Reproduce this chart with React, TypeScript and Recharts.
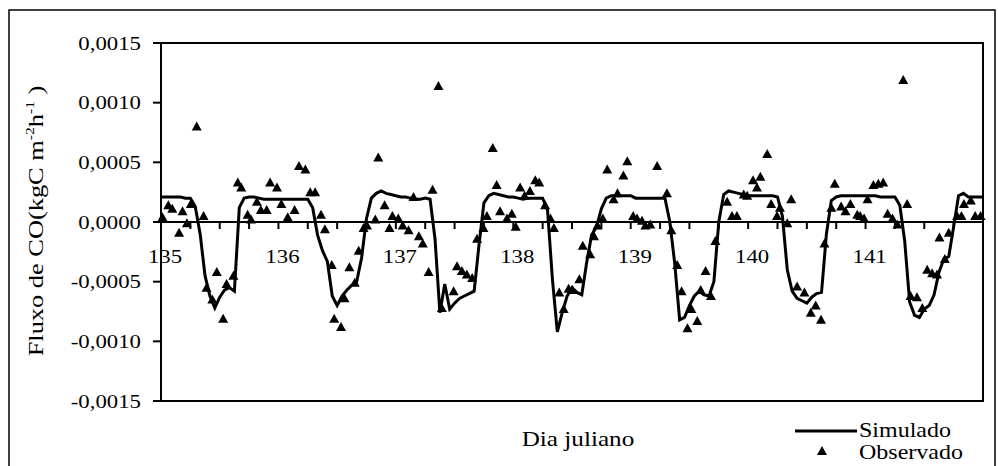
import {
  ComposedChart,
  Line,
  Scatter,
  XAxis,
  YAxis,
  ReferenceLine,
  ReferenceArea,
} from 'recharts';

// hourly simulated flux, day 135 h0 .. day 142 h0
const simulado = [
  // 135
  0.00021, 0.00021, 0.00021, 0.00021, 0.00021, 0.0002, 0.0002, 0.00013, -0.0001, -0.00045, -0.00062, -0.00072,
  -0.00063, -0.00057, -0.00055, -0.00058, 0.00012, 0.0002, 0.00021, 0.00021, 0.0002, 0.00019, 0.00019, 0.00019,
  // 136
  0.00019, 0.00019, 0.00019, 0.00019, 0.00019, 0.00019, 0.00019, 0.00012, -0.00011, -0.00024, -0.00033, -0.00062,
  -0.0007, -0.00062, -0.00057, -0.00053, -0.0005, -0.0003, 0.00003, 0.0002, 0.00024, 0.00026, 0.00024, 0.00023,
  // 137
  0.00022, 0.00021, 0.00021, 0.0002, 0.00019, 0.00019, 0.0002, 0.00019, -0.00014, -0.00076, -0.00052, -0.00073,
  -0.00068, -0.00064, -0.00062, -0.0006, -0.00058, -0.00019, 0.00016, 0.00022, 0.00024, 0.00023, 0.00022, 0.00021,
  // 138
  0.00021, 0.0002, 0.00019, 0.0002, 0.0002, 0.0002, 0.0002, 0.0001, -0.00048, -0.00092, -0.00076, -0.00062,
  -0.00055, -0.00059, -0.00061, -0.00034, -0.00011, -0.00004, 0.00011, 0.0002, 0.00022, 0.00022, 0.00022, 0.00022,
  // 139
  0.00022, 0.0002, 0.0002, 0.0002, 0.0002, 0.0002, 0.0002, 0.0002, 0.0, -0.00035, -0.00082, -0.0008,
  -0.0007, -0.00062, -0.00058, -0.00061, -0.00062, -0.0005, 0.0, 0.00023, 0.00026, 0.00025, 0.00024, 0.00023,
  // 140
  0.00022, 0.00022, 0.00022, 0.00022, 0.00022, 0.00022, 0.00021, 0.00005, -0.0004, -0.00058, -0.00064, -0.00066,
  -0.00068, -0.00063, -0.0006, -0.00059, -0.0001, 0.00018, 0.00021, 0.00022, 0.00022, 0.00022, 0.00022, 0.00022,
  // 141
  0.00022, 0.00022, 0.00022, 0.00021, 0.00021, 0.00021, 0.00021, 0.00014, -0.00016, -0.00067, -0.00078, -0.0008,
  -0.00073, -0.0007, -0.00061, -0.00042, -0.00031, -0.00029, -0.00004, 0.00022, 0.00024, 0.00021, 0.00021, 0.00021,
  // 142
  0.00021,
];

// observed: hours since day 135 and flux
const obsHora = [
  0.3, 1.5, 2.3, 3.7, 4.4, 5.3, 6.1, 7.3, 8.7, 9.3, 10.5, 11.4, 12.7, 13.4, 14.8, 15.7, 16.4, 17.7, 18.4, 19.6,
  20.4, 21.6, 22.3, 23.7, 24.6, 25.9, 27.3, 28.2, 29.5, 30.5, 31.5, 32.7, 33.5, 34.9, 35.4, 36.8, 37.5, 38.5,
  39.6, 40.4, 41.4, 42.1, 43.8, 44.4, 45.7, 46.7, 47.3, 48.5, 49.4, 50.6, 51.6, 52.7, 53.5, 54.7, 55.5, 56.7,
  57.4, 59.8, 60.5, 61.5, 62.5, 63.6, 64.6, 65.9, 66.6, 67.8, 68.6, 69.3, 70.7, 71.7, 72.5, 73.4, 74.3, 75.4,
  76.5, 77.3, 78.5, 79.6, 80.3, 81.4, 82.3, 83.3, 84.1, 85.5, 86.2, 87.7, 88.5, 89.2, 90.3, 91.2, 92.5, 93.3,
  94.5, 95.3, 96.5, 97.3, 98.3, 99.0, 100.0, 101.4, 103.4, 104.3, 105.5, 106.4, 107.6, 108.4, 109.6, 110.3,
  111.3, 112.4, 113.3, 115.7, 116.7, 117.7, 119.1, 119.8, 121.0, 121.8, 122.5, 123.9, 124.7, 125.9, 126.5,
  128.0, 128.8, 130.0, 131.5, 132.8, 133.8, 134.9, 135.6, 137.0, 137.7, 139.0, 139.9, 140.9, 142.3, 142.9,
  143.7, 144.4, 145.6, 146.6, 147.6, 148.5, 149.5, 150.5, 151.7, 152.5, 153.2, 154.5, 155.6, 156.6, 157.6,
  158.6, 159.1, 160.2, 161.0, 162.7, 163.6, 164.1, 165.5, 166.4, 167.5,
];
const obsFluxo = [
  0.00004, 0.00014, 0.00011, -0.00009, 0.00009, -0.00001, 0.00015, 0.0008, 0.00005, -0.00055, -0.00065, -0.00042,
  -0.00081, -0.00052, -0.00045, 0.00033, 0.00029, 0.00006, 0.00002, 0.00017,
  0.0001, 0.0001, 0.00033, 0.00029, 0.00015, 0.00004, 0.0001, 0.00047, 0.00044, 0.00025, 0.00025, 0.00006,
  -0.00006, -0.00036, -0.00081, -0.00088, -0.00064, -0.00038,
  -0.00051, -0.00024, -0.00005, -0.00003, 0.00002, 0.00054, 0.00014, -0.00005, 0.00005, 0.00003, -0.00003,
  -0.00007, 0.00021, -0.00012, -0.00018, -0.00042, 0.00027, 0.00114,
  -0.00072, -0.00058, -0.00037, -0.00041, -0.00044, -0.00047, -0.00014, -0.00005, 0.00005, 0.00062, 0.00031,
  0.00009, 0.00003, 0.00007, -0.00004, 0.00029, 0.00022, 0.00026,
  0.00035, 0.00033, 0.00014, 0.00003, -0.00005, -0.00059, -0.00073, -0.00056, -0.00057, -0.00048, -0.0002,
  -0.00027, -0.00012, -0.00003, 0.00003, 0.00044, 0.00019, 0.00024,
  0.00039, 0.00051, 0.00005, 0.00003, 0.00001, -0.00003, -0.00002, 0.00047, 0.00024, -0.00007, -0.00036,
  -0.00058, -0.00089, -0.00073, -0.00083, -0.00057,
  -0.00041, -0.00062, -0.00016, 0.00017, 0.00005, 0.00005, 0.00023, 0.00022, 0.00035, 0.00029, 0.00038,
  0.00057, 0.00015, 0.00005, 0.00012,
  -0.00001, 0.00019, -0.00054, -0.00059, -0.00076, -0.0007, -0.00082, -0.00018, 0.00012, 0.00032, 0.00013,
  0.00009, 0.00015, 0.00006, 0.00005,
  0.00003, 0.00019, 0.00031, 0.00032, 0.00033, 0.00007, 0.00003, -0.00002, 0.00119, 0.00015, -0.00062,
  -0.00063, -0.00072, -0.0004, -0.00043,
  -0.00044, -0.00013, -0.00031, -0.00009, 0.00005, 0.00005, 0.00015, 0.00018, 0.00005, 0.00005,
];

const diasJulianos = [135, 136, 137, 138, 139, 140, 141];
const marcasY = [-0.0015, -0.001, -0.0005, 0, 0.0005, 0.001, 0.0015];
const marcasHora = Array.from({ length: 29 }, (_, i) => i * 6);

const simData = simulado.map((v, i) => ({ hora: i, simulado: v }));
const obsData = obsHora.map((h, i) => ({ hora: h, observado: obsFluxo[i] }));

const W = 998;
const H = 466;
const PLOT_TOP = 43;
const PLOT_BOTTOM = 401;
const ZERO_Y = (PLOT_TOP + PLOT_BOTTOM) / 2;
const FONT = 'Liberation Serif, serif';
// the reference's serif runs wider than Times, stretch text along its baseline
const SX = 1.2;

const fmtY = (v: number) => v.toFixed(4).replace('.', ',');

const FluxTick = (props: any) => {
  const { x, y, payload } = props;
  return (
    <text
      transform={`translate(${x},${y}) scale(${SX},1)`}
      textAnchor="end"
      dy="0.35em"
      fontSize={19}
      fill="#000"
      style={{ fontFamily: FONT }}
    >
      {fmtY(payload.value)}
    </text>
  );
};

const DayTick = (props: any) => {
  const { x, payload } = props;
  const h = payload.value as number;
  const dia = 135 + h / 24;
  const show = h % 24 === 0 && diasJulianos.includes(dia);
  return (
    <g>
      <line x1={x} x2={x} y1={ZERO_Y} y2={ZERO_Y + 7} stroke="#000" strokeWidth={2} />
      {show && (
        <text
          transform={`translate(${x + 4},${ZERO_Y + 41}) scale(${SX},1)`}
          textAnchor="middle"
          fontSize={19}
          fill="#000"
          style={{ fontFamily: FONT }}
        >
          {dia}
        </text>
      )}
    </g>
  );
};

const Triangle = (props: any) => {
  const { cx, cy } = props;
  if (cx == null || cy == null) return null;
  return <polygon points={`${cx},${cy - 5} ${cx - 5},${cy + 4} ${cx + 5},${cy + 4}`} fill="#000" />;
};

export default function App() {
  return (
    <div
      style={{
        position: 'absolute',
        left: 0,
        top: 0,
        width: W,
        height: H,
        background: '#fff',
        fontFamily: FONT,
      }}
    >
      <ComposedChart
        width={W}
        height={H}
        data={simData}
        margin={{ top: PLOT_TOP, right: 15, bottom: 35, left: 81 }}
      >
        <XAxis
          type="number"
          dataKey="hora"
          domain={[0, 168]}
          ticks={marcasHora}
          interval={0}
          axisLine={false}
          tickLine={false}
          tick={<DayTick />}
          height={30}
        />
        <YAxis
          type="number"
          domain={[-0.0015, 0.0015]}
          ticks={marcasY}
          width={80}
          tickSize={8}
          tickMargin={12}
          axisLine={{ stroke: '#000', strokeWidth: 2 }}
          tickLine={{ stroke: '#000', strokeWidth: 2 }}
          tick={<FluxTick />}
        />
        <ReferenceArea
          x1={0}
          x2={168}
          y1={-0.0015}
          y2={0.0015}
          fill="none"
          stroke="#000"
          strokeWidth={2}
        />
        <ReferenceLine y={0} stroke="#000" strokeWidth={2} />
        <Line
          type="linear"
          dataKey="simulado"
          stroke="#000"
          strokeWidth={3}
          dot={false}
          isAnimationActive={false}
        />
        <Scatter data={obsData} dataKey="observado" shape={<Triangle />} isAnimationActive={false} />
      </ComposedChart>
      <svg
        width={W}
        height={H}
        style={{ position: 'absolute', left: 0, top: 0, pointerEvents: 'none', fontFamily: FONT }}
      >
        <rect x={9} y={10} width={986} height={470} fill="none" stroke="#000" strokeWidth={1.5} />
        <text
          transform="translate(43, 221) rotate(-90) scale(1.2,1)"
          textAnchor="middle"
          fontSize={22}
          fill="#000"
        >
          Fluxo de CO(kgC m
          <tspan dy={-9} fontSize={13}>-2</tspan>
          <tspan dy={9}>h</tspan>
          <tspan dy={-9} fontSize={13}>-1</tspan>
          <tspan dy={9}> )</tspan>
        </text>
        <text transform={`translate(578, 446) scale(${SX},1)`} textAnchor="middle" fontSize={21} fill="#000">
          Dia juliano
        </text>
        <line x1={795} x2={857} y1={431} y2={431} stroke="#000" strokeWidth={3} />
        <text transform={`translate(859, 437) scale(${SX},1)`} fontSize={20} fill="#000">
          Simulado
        </text>
        <polygon points="822,446 817,455 827,455" fill="#000" />
        <text transform={`translate(859, 459) scale(${SX},1)`} fontSize={20} fill="#000">
          Observado
        </text>
      </svg>
    </div>
  );
}
